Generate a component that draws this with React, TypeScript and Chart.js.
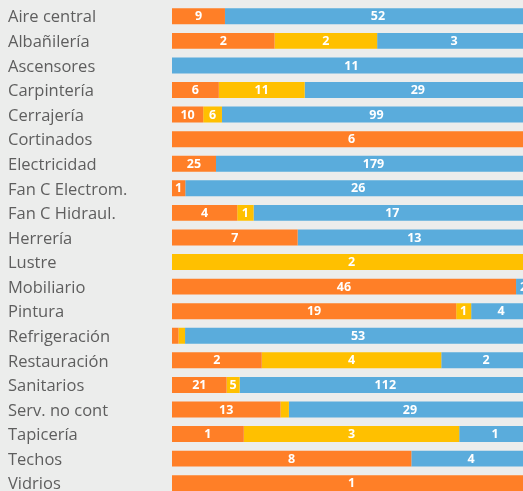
import React, { useEffect, useRef } from "react";
import { Chart, registerables } from "chart.js";

Chart.register(...registerables);

const categories = [
  "Aire central", "Albañilería", "Ascensores", "Carpintería", "Cerrajería",
  "Cortinados", "Electricidad", "Fan C Electrom.", "Fan C Hidraul.", "Herrería",
  "Lustre", "Mobiliario", "Pintura", "Refrigeración", "Restauración",
  "Sanitarios", "Serv. no cont", "Tapicería", "Techos", "Vidrios",
];
const orangeValues = [9, 2, 0, 6, 10, 6, 25, 1, 4, 7, 0, 46, 19, 1, 2, 21, 13, 1, 8, 1];
const yellowValues = [0, 2, 0, 11, 6, 0, 0, 0, 1, 0, 2, 0, 1, 1, 4, 5, 1, 3, 0, 0];
const blueValues = [52, 3, 11, 29, 99, 0, 179, 26, 17, 13, 0, 2, 4, 53, 2, 112, 29, 1, 4, 0];

const ORANGE = "#FF7F27";
const YELLOW = "#FFC000";
const BLUE = "#5AACDC";
const BG = "#ECEDEC";

const totals = categories.map((_, i) => orangeValues[i] + yellowValues[i] + blueValues[i]);
const pct = (arr: number[]) => arr.map((v, i) => (totals[i] ? (v / totals[i]) * 100 : 0));

const rawSeries = [orangeValues, yellowValues, blueValues];

const valueLabels = {
  id: "valueLabels",
  afterDatasetsDraw(chart: any) {
    const ctx = chart.ctx;
    ctx.save();
    ctx.font = "bold 12.5px 'Open Sans', sans-serif";
    ctx.fillStyle = "#FFFFFF";
    ctx.textAlign = "center";
    ctx.textBaseline = "middle";
    chart.data.datasets.forEach((ds: any, di: number) => {
      const meta = chart.getDatasetMeta(di);
      meta.data.forEach((bar: any, i: number) => {
        const v = rawSeries[di][i];
        if (!v) return;
        const w = Math.abs(bar.x - bar.base);
        const text = String(v);
        const tw = ctx.measureText(text).width;
        if (tw + 4 > w) return;
        ctx.fillText(text, (bar.x + bar.base) / 2, bar.y + 0.5);
      });
    });
    ctx.restore();
  },
};

export default function App() {
  const ref = useRef<HTMLCanvasElement | null>(null);
  useEffect(() => {
    document.body.style.margin = "0";
    document.body.style.background = BG;
    document.documentElement.style.overflow = "hidden";
    const chart = new Chart(ref.current as HTMLCanvasElement, {
      type: "bar",
      data: {
        labels: categories,
        datasets: [
          { label: "Naranja", data: pct(orangeValues), backgroundColor: ORANGE },
          { label: "Amarillo", data: pct(yellowValues), backgroundColor: YELLOW },
          { label: "Azul", data: pct(blueValues), backgroundColor: BLUE },
        ],
      },
      options: {
        indexAxis: "y",
        responsive: false,
        animation: false,
        layout: { padding: { left: 8, right: 0, top: 4, bottom: 4.5 } },
        datasets: { bar: { categoryPercentage: 1, barPercentage: 0.65, borderWidth: 0 } },
        plugins: { legend: { display: false }, tooltip: { enabled: false } },
        scales: {
          x: { stacked: true, display: false, min: 0, max: 100 },
          y: {
            stacked: true,
            grid: { display: false },
            border: { display: false },
            afterFit: (scale: any) => {
              scale.width = 164;
              scale.paddingTop = 0;
              scale.paddingBottom = 0;
            },
            ticks: {
              crossAlign: "far",
              color: "#5E5E5E",
              labelOffset: 1.5,
              font: { family: "'Open Sans', sans-serif", size: 16.5 },
              autoSkip: false,
            },
          },
        },
      },
      plugins: [valueLabels],
    } as any);
    return () => chart.destroy();
  }, []);
  return (
    <div style={{ position: "fixed", left: 0, top: 0, width: 523, height: 491, overflow: "hidden", background: BG }}>
      <canvas ref={ref} width={531} height={500} style={{ display: "block" }} />
    </div>
  );
}
